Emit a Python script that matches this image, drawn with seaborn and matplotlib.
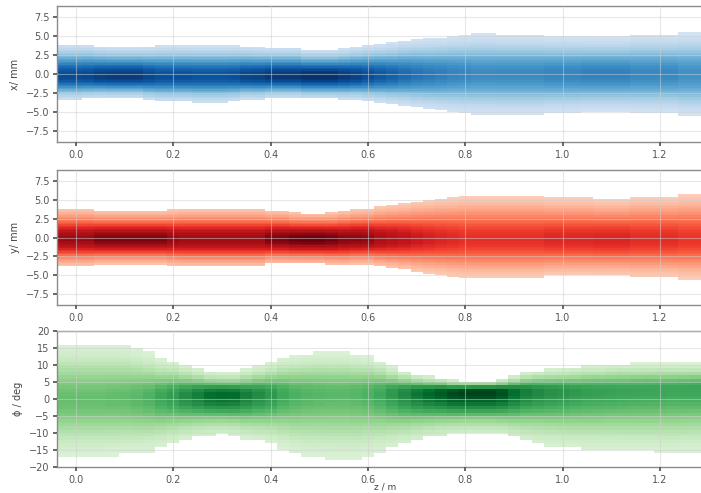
import numpy as np
import pandas as pd
import matplotlib
matplotlib.use("Agg")
import matplotlib.pyplot as plt
import seaborn as sns

# ---- data (per z column, step 0.025 m) ----
z_m = np.round(np.arange(-0.025, 1.2751, 0.025), 3)

x_top = [3.8, 3.8, 3.8, 3.6, 3.5, 3.5, 3.5, 3.6, 3.7, 3.7, 3.7, 3.7, 3.7, 3.7, 3.7, 3.6, 3.5, 3.4,
         3.4, 3.4, 3.1, 3.1, 3.1, 3.3, 3.5, 3.7, 3.9, 4.1, 4.4, 4.6, 4.7, 4.8, 5.0, 5.1, 5.3, 5.3,
         5.2, 5.2, 5.2, 5.2, 5.0, 5.0, 5.0, 4.9, 4.9, 4.9, 4.9, 5.2, 5.2, 5.2, 5.2, 5.5, 5.5]
x_bot = [-3.4, -3.4, -3.3, -3.2, -3.2, -3.2, -3.2, -3.5, -3.7, -3.7, -3.7, -3.8, -3.8, -3.8, -3.7,
         -3.4, -3.4, -3.2, -3.2, -3.2, -3.3, -3.3, -3.3, -3.4, -3.4, -3.6, -3.8, -4.0, -4.2, -4.5,
         -4.7, -4.9, -5.1, -5.2, -5.4, -5.4, -5.4, -5.4, -5.4, -5.4, -5.2, -5.2, -5.2, -5.0, -5.0,
         -5.0, -5.0, -5.2, -5.2, -5.2, -5.2, -5.6, -5.6]
x_core = [-0.3, -0.3, -0.3, -0.3, -0.3, -0.3, -0.3, -0.3, -0.3, -0.3, -0.3, -0.3, -0.3, -0.3, -0.3,
          -0.3, -0.3, -0.3, -0.3, -0.3, -0.3, -0.3, -0.3, -0.3, -0.3, -0.25, -0.2, -0.2, -0.15, -0.1,
          -0.1, -0.05, 0.0, 0.0, 0.0, 0.0, 0.0, 0.0, 0.0, 0.0, 0.0, 0.0, 0.0, 0.0, 0.0, 0.0, 0.0,
          0.0, 0.0, 0.0, 0.0, 0.0, 0.0]

y_top = [3.8, 3.8, 3.8, 3.55, 3.55, 3.55, 3.55, 3.55, 3.55, 3.7, 3.8, 3.8, 3.8, 3.8, 3.8, 3.8,
         3.8, 3.55, 3.55, 3.3, 3.25, 3.25, 3.3, 3.55, 3.7, 3.8, 4.1, 4.3, 4.5, 4.8, 5.0, 5.2, 5.3,
         5.55, 5.55, 5.55, 5.55, 5.55, 5.55, 5.55, 5.3, 5.3, 5.3, 5.3, 5.1, 5.1, 5.1, 5.45, 5.45,
         5.45, 5.45, 5.8, 5.8]
y_bot = [-3.8, -3.8, -3.8, -3.55, -3.55, -3.55, -3.55, -3.55, -3.55, -3.8, -3.9, -3.9, -3.9, -3.9,
         -3.9, -3.9, -3.9, -3.5, -3.5, -3.5, -3.5, -3.5, -3.6, -3.7, -3.6, -3.6, -3.9, -4.1, -4.3,
         -4.6, -4.8, -5.0, -5.2, -5.4, -5.4, -5.4, -5.4, -5.4, -5.4, -5.4, -5.1, -5.1, -5.1, -5.1,
         -5.1, -5.1, -5.1, -5.3, -5.3, -5.3, -5.3, -5.55, -5.55]
y_core = [-0.2] * 53

phi_top = [16.4, 16.4, 16.4, 16.4, 16.2, 16.0, 14.8, 13.5, 11.8, 11.0, 9.8, 8.8, 7.8, 7.6, 7.6,
           8.5, 9.5, 10.5, 12.0, 12.8, 13.3, 13.6, 13.6, 13.6, 13.0, 12.5, 11.3, 9.5, 8.2, 7.2,
           6.6, 6.2, 5.6, 5.4, 5.4, 5.4, 5.8, 6.8, 7.8, 8.4, 8.8, 9.0, 9.4, 9.8, 10.0, 10.2, 10.4,
           10.5, 10.5, 10.5, 10.5, 10.5, 10.5]
phi_bot = [-17.0, -17.0, -17.0, -17.0, -16.6, -16.4, -16.2, -15.6, -14.3, -13.2, -12.0, -11.2,
           -10.5, -10.3, -10.5, -11.5, -12.2, -13.0, -14.5, -16.0, -16.6, -17.0, -17.5, -17.6,
           -17.5, -16.5, -15.5, -14.2, -13.2, -12.0, -11.2, -10.6, -10.2, -10.0, -10.0, -10.0,
           -10.4, -11.4, -12.3, -13.0, -13.6, -14.0, -14.4, -14.8, -15.0, -15.0, -15.2, -15.3,
           -15.4, -15.5, -15.8, -15.6, -15.5]
phi_core = [0.0, 0.0, 0.0, 0.0, 0.1, 0.2, 0.3, 0.5, 0.7, 0.9, 1.0, 1.1, 1.2, 1.2, 1.2, 1.2, 1.3,
            1.3, 1.4, 1.4, 1.5, 1.5, 1.5, 1.6, 1.6, 1.7, 1.7, 1.8, 1.8, 1.9, 1.9, 2.0, 2.0, 2.1,
            2.2, 2.2, 2.2, 2.2, 2.3, 2.3, 2.3, 2.4, 2.4, 2.5, 2.5, 2.6, 2.6, 2.7, 2.8, 2.9, 3.0,
            3.1, 3.2]

z_ticks = [0.0, 0.2, 0.4, 0.6, 0.8, 1.0, 1.2]
xy_ticks = [-7.5, -5.0, -2.5, 0.0, 2.5, 5.0, 7.5]
phi_ticks = [-20, -15, -10, -5, 0, 5, 10, 15, 20]


def cells(top, bot, core, step, lim, k):
    rows = []
    vc = np.arange(-lim, lim, step) + step / 2
    for z, t, b, c in zip(z_m, top, bot, core):
        su = (t - c) / k
        sd = (c - b) / k
        sel = vc[(vc >= b) & (vc <= t)]
        s = np.where(sel > c, su, sd)
        w = np.exp(-0.5 * ((sel - c) / s) ** 2) / (su + sd)
        for v, ww in zip(sel, w):
            rows.append((z, v, ww))
    return pd.DataFrame(rows, columns=["z", "v", "w"])


sns.set_theme(style="whitegrid")
plt.rcParams.update({
    "font.family": ["DejaVu Sans"],
    "axes.edgecolor": "#8a8a8a",
    "axes.linewidth": 1.0,
    "xtick.bottom": True,
    "ytick.left": True,
    "xtick.major.size": 3,
    "ytick.major.size": 3,
    "xtick.color": "#555555",
    "ytick.color": "#555555",
    "xtick.labelsize": 7,
    "ytick.labelsize": 7,
    "axes.labelsize": 7,
    "axes.labelcolor": "#444444",
})

fig = plt.figure(figsize=(7.01, 4.93), dpi=100)
W, H = 701, 493
left_px, right_px = 57, 713
panels = [(6, 142), (170, 305), (331, 467)]
axes = []
for t, b in panels:
    axes.append(fig.add_axes([left_px / W, (H - b) / H, (right_px - left_px) / W, (b - t) / H]))

z_edges = np.round(np.arange(-0.0375, 1.2876, 0.025), 4)

specs = [
    (x_top, x_bot, x_core, 0.2, 10, 2.1, "Blues", "x/ mm", xy_ticks, (-9, 9)),
    (y_top, y_bot, y_core, 0.2, 10, 2.1, "Reds", "y/ mm", xy_ticks, (-9, 9)),
    (phi_top, phi_bot, phi_core, 1.0, 20, 2.2, "Greens", "ϕ / deg", phi_ticks, (-20, 20)),
]

for ax, (top, bot, core, step, lim, k, cmap, lab, yt, ylim) in zip(axes, specs):
    df = cells(top, bot, core, step, lim, k)
    v_edges = np.arange(-lim, lim + step / 2, step)
    vmax = df["w"].max()
    sns.histplot(data=df, x="z", y="v", weights="w", bins=[z_edges, v_edges],
                 cmap=cmap, vmin=-0.15 * vmax, vmax=vmax, ax=ax, cbar=False)
    ax.set_xlim(-0.039, 1.309)
    ax.set_ylim(*ylim)
    ax.set_xticks(z_ticks)
    ax.set_xticklabels([f"{t:.1f}" for t in z_ticks])
    ax.set_yticks(yt)
    if step < 1:
        ax.set_yticklabels([f"{t:.1f}".replace("-", "\u2212") for t in yt])
    ax.set_ylabel(lab, labelpad=4)
    ax.set_xlabel("")
    ax.set_axisbelow(False)
    ax.grid(True, color="#d0d0d0", alpha=0.5, linewidth=0.8)
    ax.tick_params(axis="both", pad=2.5, length=3, color="#555555")

axes[2].set_xlabel("z / m", labelpad=-1.5, fontsize=6.5)

fig.savefig("out.png", dpi=100)
